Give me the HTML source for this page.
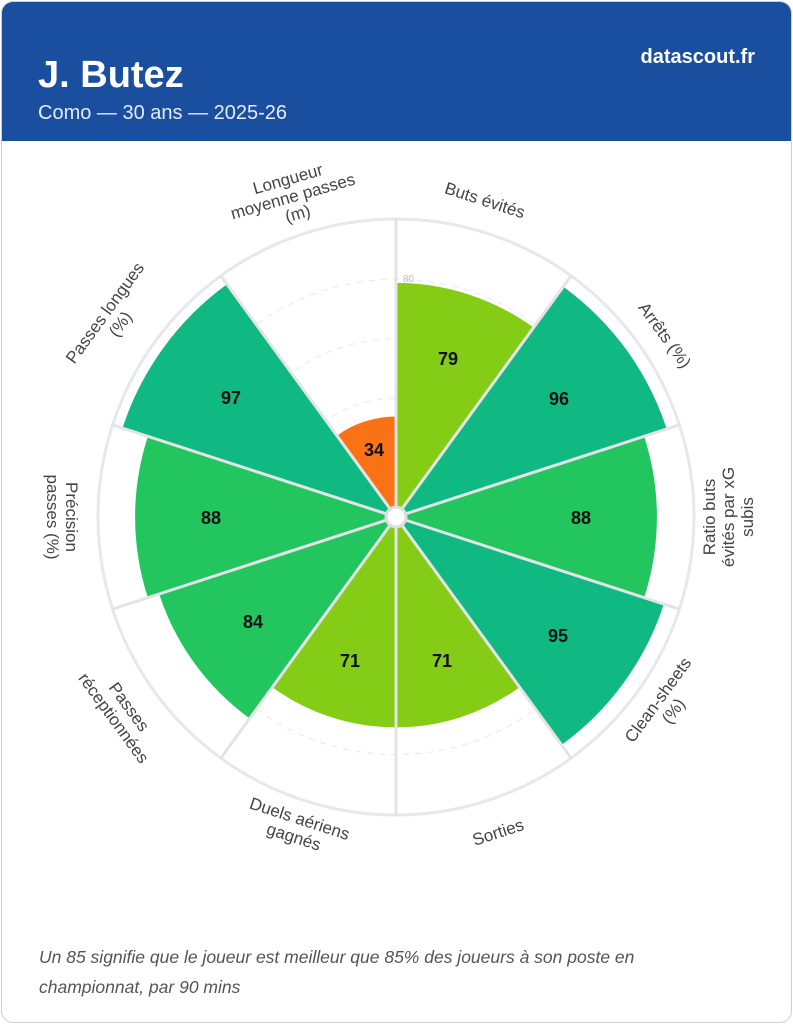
<!DOCTYPE html>
<html><head><meta charset="utf-8"><style>
html,body{margin:0;padding:0;background:#fff;}
body{width:793px;height:1024px;overflow:hidden;font-family:"Liberation Sans",sans-serif;}
.card{position:absolute;left:1px;top:1px;width:789px;height:1020px;border:1px solid #d0d0d0;border-radius:12px;overflow:hidden;background:#fff;}
.hdr{position:absolute;left:0;top:0;width:100%;height:139px;background:#1a4fa0;color:#fff;}
.t{position:absolute;left:36px;top:52px;font-size:38px;font-weight:bold;}
.s{position:absolute;left:36px;top:100px;font-size:20px;color:#e6ecf7;}
.b{position:absolute;right:36px;top:44px;font-size:20px;font-weight:bold;}
.f{position:absolute;left:37px;top:940px;font-size:17.5px;font-style:italic;color:#555;line-height:30px;}
svg{position:absolute;left:0;top:0;}
</style></head><body>
<div class="card">
<div class="hdr"><div class="t">J. Butez</div><div class="s">Como — 30 ans — 2025-26</div><div class="b">datascout.fr</div></div>
<div class="f">Un 85 signifie que le joueur est meilleur que 85% des joueurs à son poste en<br>championnat, par 90 mins</div>
</div>
<svg id="c" width="793" height="1024" font-family="Liberation Sans, sans-serif">
<g id="bg"></g>
<g id="w"></g>
<g id="sp"></g>
<text x="403" y="282" font-size="10" fill="#bbb">80</text>
<circle cx="396" cy="517" r="10" fill="#fff" stroke="#ddd" stroke-width="3"/>
<g font-size="18" font-weight="bold" fill="#111" text-anchor="middle">
<text x="448" y="365">79</text><text x="559" y="405">96</text><text x="581" y="524">88</text>
<text x="558" y="642">95</text><text x="442" y="667">71</text><text x="350" y="667">71</text>
<text x="253" y="628">84</text><text x="211" y="524">88</text><text x="231" y="404">97</text>
<text x="374" y="456">34</text></g>
<g font-size="17" fill="#444" text-anchor="middle">
<text transform="translate(485,200) rotate(18)" y="6">Buts évités</text>
<text transform="translate(665,335) rotate(54)" y="6">Arrêts (%)</text>
<text transform="translate(728,517) rotate(-90)" y="-13"><tspan x="0">Ratio buts</tspan><tspan x="0" dy="19">évités par xG</tspan><tspan x="0" dy="19">subis</tspan></text>
<text transform="translate(665,705) rotate(-54)" y="-3"><tspan x="0">Clean-sheets</tspan><tspan x="0" dy="19">(%)</tspan></text>
<text transform="translate(498,832) rotate(-18)" y="6">Sorties</text>
<text transform="translate(297,827) rotate(18)" y="-3"><tspan x="0">Duels aériens</tspan><tspan x="0" dy="19">gagnés</tspan></text>
<text transform="translate(122,712) rotate(54)" y="-3"><tspan x="0">Passes</tspan><tspan x="0" dy="19">réceptionnées</tspan></text>
<text transform="translate(63,517) rotate(90)" y="-3"><tspan x="0">Précision</tspan><tspan x="0" dy="19">passes (%)</tspan></text>
<text transform="translate(112,318) rotate(-54)" y="-3"><tspan x="0">Passes longues</tspan><tspan x="0" dy="19">(%)</tspan></text>
<text transform="translate(293,197) rotate(-16)" y="-13"><tspan x="0">Longueur</tspan><tspan x="0" dy="18">moyenne passes</tspan><tspan x="0" dy="18">(m)</tspan></text>
</g>
</svg>
<script>
var cx=396,cy=517,k=2.97,NS="http://www.w3.org/2000/svg";
var vals=[79,96,88,95,71,71,84,88,97,34];
var cols=["#84cc16","#10b981","#22c55e","#10b981","#84cc16","#84cc16","#22c55e","#22c55e","#10b981","#f97316"];
function P(a,r){a=a*Math.PI/180;return (cx+r*Math.sin(a)).toFixed(1)+","+(cy-r*Math.cos(a)).toFixed(1);}
function wedge(a0,a1,r){return "M"+cx+","+cy+" L"+P(a0,r)+" A"+r+","+r+" 0 0 1 "+P(a1,r)+" Z";}
function el(g,t,at){var e=document.createElementNS(NS,t);for(var q in at)e.setAttribute(q,at[q]);document.getElementById(g).appendChild(e);}
el("bg","circle",{cx:cx,cy:cy,r:298,fill:"#fff",stroke:"#e8e8ec","stroke-width":3});
[20,40,60,80].forEach(function(v){el("bg","circle",{cx:cx,cy:cy,r:v*k,fill:"none",stroke:"#ececec","stroke-width":1.2,"stroke-dasharray":"6,6"});});
for(var i=0;i<10;i++){el("w","path",{d:wedge(i*36,(i+1)*36,vals[i]*k),fill:cols[i],stroke:"#fff","stroke-width":1});
el("sp","line",{x1:cx,y1:cy,x2:P(i*36,299).split(",")[0],y2:P(i*36,299).split(",")[1],stroke:"#e4e4e8","stroke-width":3});}
</script>
</body></html>
